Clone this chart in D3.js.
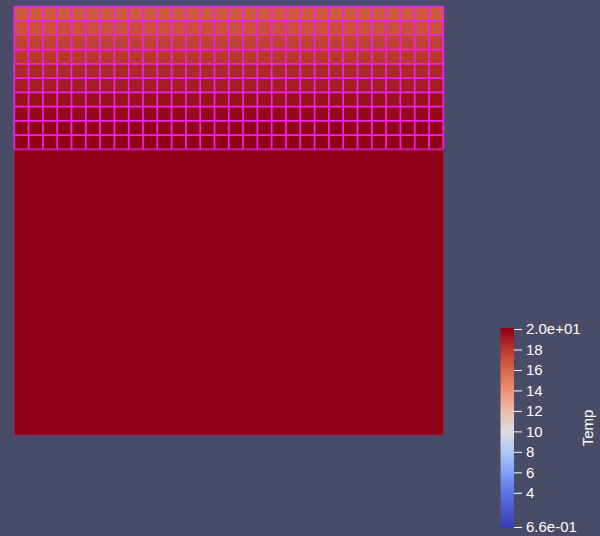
<!DOCTYPE html>
<html><head><meta charset="utf-8">
<script src="https://cdn.jsdelivr.net/npm/d3@7"></script>
<style>
html,body{margin:0;padding:0;background:#484c66;}
svg{display:block;}
text{font-family:"Liberation Sans",Arial,sans-serif;fill:#ffffff;}
</style></head>
<body>
<script>
// ---- data ----
const nCols = 30;                      // cells across the domain
const nRowsTotal = 30;                 // cells down the domain
const refinedRowTemps = [16.6, 17.1, 17.6, 18.1, 18.6, 19.0, 19.4, 19.7, 19.9, 20.0]; // top mesh rows (Temp)
const baseTemp = 20.0;                 // uniform lower block
const tempRange = [0.66, 20.0];
const tickValues = [4, 6, 8, 10, 12, 14, 16, 18];
const endLabels = ["6.6e-01", "2.0e+01"];
const legendTitle = "Temp";
// cool-to-warm colour stops (t in [0,1])
const cmapT = [0, 0.172, 0.276, 0.379, 0.483, 0.586, 0.69, 0.793, 0.897, 1];
const cmapC = ["#3b3cb9", "#5a73e1", "#82a0f5", "#afc8f5", "#dcdce1", "#ebbeaf", "#f09173", "#d8684a", "#b93a30", "#8f0016"];

// ---- layout ----
const W = 600, H = 536;
const svg = d3.select("body").append("svg").attr("width", W).attr("height", H);

const color = d3.scaleLinear()
  .domain(cmapT.map(t => tempRange[0] + t * (tempRange[1] - tempRange[0])))
  .range(cmapC).interpolate(d3.interpolateRgb).clamp(true);

const x = d3.scaleBand().domain(d3.range(nCols)).range([14.3, 443.3]).padding(0);
const y = d3.scaleBand().domain(d3.range(nRowsTotal)).range([6.7, 435]).padding(0);

// lower uniform block
svg.append("rect")
  .attr("x", x(0)).attr("y", y(refinedRowTemps.length))
  .attr("width", x.bandwidth() * nCols)
  .attr("height", y.bandwidth() * (nRowsTotal - refinedRowTemps.length))
  .attr("fill", color(baseTemp));

// refined cells
const cells = [];
refinedRowTemps.forEach((v, r) => d3.range(nCols).forEach(c => cells.push({r, c, v})));
svg.append("g").selectAll("rect").data(cells).join("rect")
  .attr("x", d => x(d.c)).attr("y", d => y(d.r))
  .attr("width", x.bandwidth() + 0.2).attr("height", y.bandwidth() + 0.2)
  .attr("fill", d => color(d.v));

// mesh wireframe
const grid = svg.append("g").attr("stroke", "#f020f0").attr("stroke-width", 1.7).attr("fill", "none");
d3.range(nCols + 1).forEach(c => {
  const xx = c < nCols ? x(c) : x(nCols - 1) + x.bandwidth();
  grid.append("line").attr("x1", xx).attr("x2", xx)
    .attr("y1", y(0)).attr("y2", y(refinedRowTemps.length));
});
d3.range(refinedRowTemps.length + 1).forEach(r => {
  grid.append("line").attr("x1", x(0)).attr("x2", x(nCols - 1) + x.bandwidth())
    .attr("y1", y(r)).attr("y2", y(r));
});
// thin outline of lower block
svg.append("rect")
  .attr("x", x(0)).attr("y", y(refinedRowTemps.length))
  .attr("width", x.bandwidth() * nCols)
  .attr("height", y.bandwidth() * (nRowsTotal - refinedRowTemps.length))
  .attr("fill", "none").attr("stroke", "#b0205a").attr("stroke-width", 0.6);

// ---- colour legend ----
const ly = d3.scaleLinear().domain(tempRange).range([527, 329]);
const barX = 500.7, barW = 13.3;
const steps = d3.range(0, 200).map(i => tempRange[0] + (tempRange[1] - tempRange[0]) * i / 199);
svg.append("g").selectAll("rect").data(steps).join("rect")
  .attr("x", barX).attr("width", barW)
  .attr("y", d => ly(d) - 1).attr("height", 2)
  .attr("fill", d => color(d));

const axis = d3.axisRight(ly).tickValues([tempRange[0], ...tickValues, tempRange[1]])
  .tickSize(8).tickPadding(4)
  .tickFormat(d => d === tempRange[0] ? endLabels[0] : d === tempRange[1] ? endLabels[1] : d3.format("d")(d));
const ag = svg.append("g").attr("transform", `translate(${barX + barW},0)`).call(axis);
ag.select(".domain").remove();
ag.selectAll("line").attr("stroke", "#ffffff").attr("stroke-width", 1);
ag.selectAll("text").style("font-size", "15px").attr("fill", "#ffffff");

svg.append("text")
  .attr("transform", "translate(593,428) rotate(-90)")
  .attr("text-anchor", "middle")
  .style("font-size", "15px")
  .text(legendTitle);
</script>
</body></html>
